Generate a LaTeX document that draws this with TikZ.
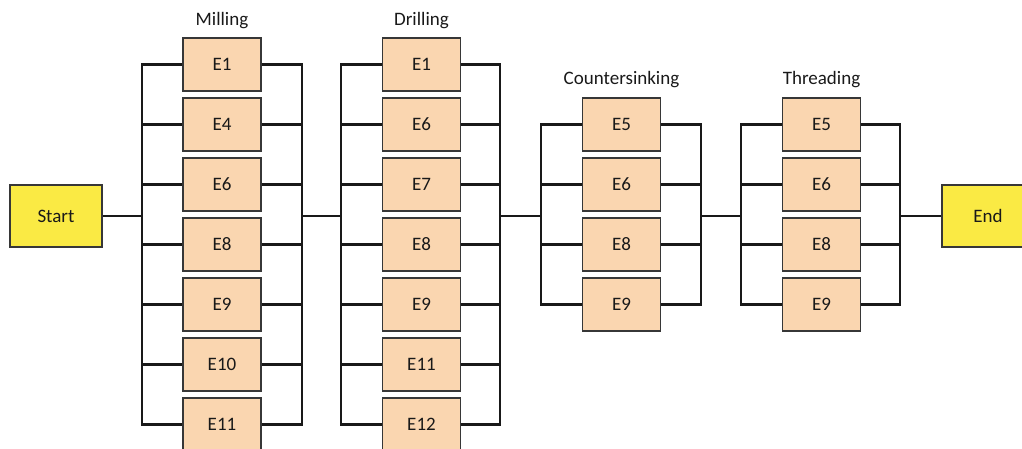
\documentclass[tikz,border=0pt]{standalone}
\usepackage{fontspec}
\setmainfont{Carlito}
\definecolor{peach}{RGB}{250,214,176}
\definecolor{yellowbox}{RGB}{250,234,68}
\definecolor{edgegray}{RGB}{55,55,55}
\definecolor{txt}{RGB}{25,25,25}
\begin{document}
\begin{tikzpicture}[x=1pt,y=-1pt,
  ebox/.style={draw=edgegray, line width=1.3pt, fill=peach, minimum width=78pt, minimum height=53pt, inner sep=0pt, font=\fontsize{19}{22}\selectfont, text=txt},
  tbox/.style={draw=edgegray, line width=1.3pt, fill=yellowbox, minimum width=92pt, minimum height=62pt, inner sep=0pt, font=\fontsize{19}{22}\selectfont, text=txt},
  wire/.style={line width=2.4pt, draw=black!90, line join=miter},
  stagelabel/.style={font=\fontsize{19}{22}\selectfont, text=txt, inner sep=0pt}]
\useasboundingbox (0,0) rectangle (1022,449);
\begin{scope}
\clip (0,0) rectangle (1022,449);
% start / end
\node[tbox] (start) at (56,216) {Start};
\node[tbox] (end) at (988,216) {End};
% stage labels
\node[stagelabel] (lm) at (222,21) {Milling};
\node[stagelabel] (ld) at (421.5,21) {Drilling};
\node[stagelabel] (lc) at (621.5,80) {Countersinking};
\node[stagelabel] (lt) at (821.5,80) {Threading};
% boxes
\foreach \t [count=\i] in {E1,E4,E6,E8,E9,E10,E11}
  \node[ebox] (m\i) at (222,{64.5+60*(\i-1)}) {\t};
\foreach \t [count=\i] in {E1,E6,E7,E8,E9,E11,E12}
  \node[ebox] (d\i) at (421.5,{64.5+60*(\i-1)}) {\t};
\foreach \t [count=\i] in {E5,E6,E8,E9}
  \node[ebox] (c\i) at (621.5,{124.5+60*(\i-1)}) {\t};
\foreach \t [count=\i] in {E5,E6,E8,E9}
  \node[ebox] (t\i) at (821.5,{124.5+60*(\i-1)}) {\t};
% bus junctions
\coordinate (mL) at (142,216); \coordinate (mR) at (302,216);
\coordinate (dL) at (341,216); \coordinate (dR) at (500,216);
\coordinate (cL) at (541,216); \coordinate (cR) at (701,216);
\coordinate (tL) at (741,216); \coordinate (tR) at (900,216);
% milling wires
\draw[wire] (m1.west) -| (mL |- m7) -- (m7.west);
\draw[wire] (m1.east) -| (mR |- m7) -- (m7.east);
\foreach \i in {2,...,6} {
  \draw[wire] (mL |- m\i) -- (m\i.west);
  \draw[wire] (m\i.east) -- (mR |- m\i);
}
% drilling wires
\draw[wire] (d1.west) -| (dL |- d7) -- (d7.west);
\draw[wire] (d1.east) -| (dR |- d7) -- (d7.east);
\foreach \i in {2,...,6} {
  \draw[wire] (dL |- d\i) -- (d\i.west);
  \draw[wire] (d\i.east) -- (dR |- d\i);
}
% countersinking wires
\draw[wire] (c1.west) -| (cL |- c4) -- (c4.west);
\draw[wire] (c1.east) -| (cR |- c4) -- (c4.east);
\foreach \i in {2,3} {
  \draw[wire] (cL |- c\i) -- (c\i.west);
  \draw[wire] (c\i.east) -- (cR |- c\i);
}
% threading wires
\draw[wire] (t1.west) -| (tL |- t4) -- (t4.west);
\draw[wire] (t1.east) -| (tR |- t4) -- (t4.east);
\foreach \i in {2,3} {
  \draw[wire] (tL |- t\i) -- (t\i.west);
  \draw[wire] (t\i.east) -- (tR |- t\i);
}
% series connections
\draw[wire] (start.east) -- (mL);
\draw[wire] (mR) -- (dL);
\draw[wire] (dR) -- (cL);
\draw[wire] (cR) -- (tL);
\draw[wire] (tR) -- (end.west);
\end{scope}
\end{tikzpicture}
\end{document}
